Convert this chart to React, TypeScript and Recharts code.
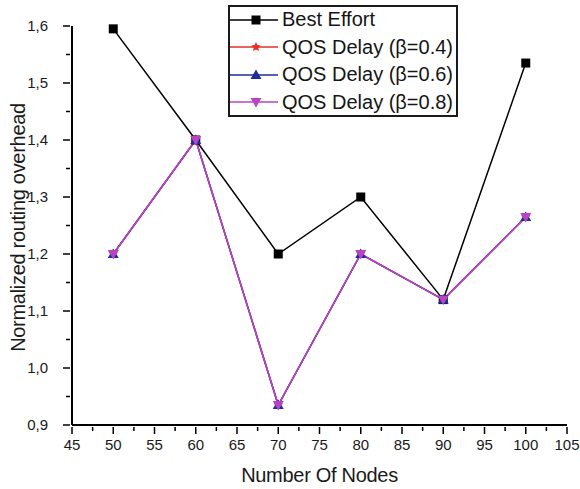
import React from "react";
import { LineChart, Line, XAxis, YAxis, Legend } from "recharts";

const nodes = [50, 60, 70, 80, 90, 100];
const bestEffort = [1.595, 1.4, 1.2, 1.3, 1.12, 1.535];
const qosDelay04 = [1.2, 1.4, 0.935, 1.2, 1.12, 1.265];
const qosDelay06 = [1.2, 1.4, 0.935, 1.2, 1.12, 1.265];
const qosDelay08 = [1.2, 1.4, 0.935, 1.2, 1.12, 1.265];

const xMajorTicks = [45, 50, 55, 60, 65, 70, 75, 80, 85, 90, 95, 100, 105];
const xMinorTicks = [47.5, 52.5, 57.5, 62.5, 67.5, 72.5, 77.5, 82.5, 87.5, 92.5, 97.5, 102.5];
const yMajorTicks = [0.9, 1.0, 1.1, 1.2, 1.3, 1.4, 1.5, 1.6];
const yMinorTicks = [0.95, 1.05, 1.15, 1.25, 1.35, 1.45, 1.55];

const data = nodes.map((n, i) => ({
  nodes: n,
  best: bestEffort[i],
  q04: qosDelay04[i],
  q06: qosDelay06[i],
  q08: qosDelay08[i],
}));

const FONT = "'Liberation Sans', Arial, sans-serif";

const series = [
  { key: "best", name: "Best Effort", color: "#000000", marker: "square" },
  { key: "q04", name: "QOS Delay (\u03b2=0.4)", color: "#e0302a", marker: "star" },
  { key: "q06", name: "QOS Delay (\u03b2=0.6)", color: "#1c2c9c", marker: "up" },
  { key: "q08", name: "QOS Delay (\u03b2=0.8)", color: "#b844c4", marker: "down" },
];

function marker(type: string, cx: number, cy: number, color: string, key?: any) {
  if (type === "square") {
    return <rect key={key} x={cx - 4.5} y={cy - 4.5} width={9} height={9} fill={color} />;
  }
  if (type === "up") {
    return (
      <polygon key={key} points={`${cx},${cy - 5.5} ${cx + 5.5},${cy + 4} ${cx - 5.5},${cy + 4}`} fill={color} />
    );
  }
  if (type === "down") {
    return (
      <polygon key={key} points={`${cx},${cy + 5.5} ${cx + 5.5},${cy - 4} ${cx - 5.5},${cy - 4}`} fill={color} />
    );
  }
  // star
  const pts: string[] = [];
  for (let i = 0; i < 10; i++) {
    const r = i % 2 === 0 ? 5 : 2.4;
    const a = -Math.PI / 2 + (i * Math.PI) / 5;
    pts.push(`${cx + r * Math.cos(a)},${cy + r * Math.sin(a)}`);
  }
  return <polygon key={key} points={pts.join(" ")} fill={color} />;
}

const XTick = (props: any) => {
  const { x, y, payload } = props;
  const v = payload.value;
  const major = xMajorTicks.includes(v);
  return (
    <g>
      <line x1={x} x2={x} y1={y} y2={y + (major ? 7 : 4)} stroke="#000" strokeWidth={1.5} />
      {major && (
        <text x={x} y={y + 23} textAnchor="middle" fontSize={15} fontFamily={FONT} fill="#1a1a1a">
          {v}
        </text>
      )}
    </g>
  );
};

const YTick = (props: any) => {
  const { x, y, payload } = props;
  const v = payload.value;
  const major = yMajorTicks.some((t) => Math.abs(t - v) < 1e-9);
  return (
    <g>
      <line x1={x} x2={x - (major ? 7 : 4)} y1={y} y2={y} stroke="#000" strokeWidth={1.5} />
      {major && (
        <text x={x - 22} y={y + 5} textAnchor="end" fontSize={15} fontFamily={FONT} fill="#1a1a1a">
          {v.toFixed(1).replace(".", ",")}
        </text>
      )}
    </g>
  );
};

const LegendBox = () => (
  <div
    style={{
      border: "2px solid #1a1a1a",
      background: "#fff",
      width: 226,
      height: 108,
      boxSizing: "content-box",
      fontFamily: FONT,
    }}
  >
    {series.map((s) => (
      <div key={s.key} style={{ display: "flex", alignItems: "center", height: 27.5, marginTop: s.key === "best" ? -1 : 0 }}>
        <svg width={52} height={20} style={{ flex: "none" }}>
          <line x1={0} x2={48} y1={10} y2={10} stroke={s.color} strokeWidth={1.5} />
          {marker(s.marker, 26, 10, s.color)}
        </svg>
        <span style={{ fontSize: 20, color: "#151515", whiteSpace: "nowrap" }}>{s.name}</span>
      </div>
    ))}
  </div>
);

export default function App() {
  return (
    <div style={{ position: "absolute", left: 0, top: 0, width: 580, height: 489, background: "#fff" }}>
      <LineChart width={580} height={489} data={data} margin={{ top: 26, right: 13, bottom: 0, left: 32 }}>
        <XAxis
          dataKey="nodes"
          type="number"
          domain={[45, 105]}
          ticks={[...xMajorTicks, ...xMinorTicks].sort((a, b) => a - b)}
          interval={0}
          tickSize={0}
          tickLine={false}
          tick={<XTick />}
          axisLine={{ stroke: "#000", strokeWidth: 2 }}
          height={64}
          label={{
            content: (p: any) => (
              <text
                x={p.viewBox.x + p.viewBox.width / 2}
                y={p.viewBox.y + 57}
                textAnchor="middle"
                fontSize={20}
                fontFamily={FONT}
                fill="#1a1a1a"
                letterSpacing={-0.3}
              >
                Number Of Nodes
              </text>
            ),
          }}
        />
        <YAxis
          type="number"
          domain={[0.9, 1.6]}
          ticks={[...yMajorTicks, ...yMinorTicks].sort((a, b) => a - b)}
          interval={0}
          tickSize={0}
          tickLine={false}
          tick={<YTick />}
          axisLine={{ stroke: "#000", strokeWidth: 2 }}
          width={40}
          label={{
            content: (p: any) => {
              const cx = 18;
              const cy = p.viewBox.y + p.viewBox.height / 2 + 2;
              return (
                <text
                  x={cx}
                  y={cy}
                  transform={`rotate(-90 ${cx} ${cy})`}
                  textAnchor="middle"
                  dominantBaseline="central"
                  fontSize={20}
                  fontFamily={FONT}
                  fill="#1a1a1a"
                  letterSpacing={-0.3}
                >
                  Normalized routing overhead
                </text>
              );
            },
          }}
        />
        <Legend
          layout="vertical"
          align="center"
          verticalAlign="middle"
          content={<LegendBox />}
          wrapperStyle={{ position: "absolute", left: 228, top: 5, width: 230, height: 112 }}
        />
        {series.map((s) => (
          <Line
            key={s.key}
            dataKey={s.key}
            name={s.name}
            stroke={s.color}
            strokeWidth={1.5}
            isAnimationActive={false}
            dot={(p: any) => marker(s.marker, p.cx, p.cy, s.color, `${s.key}-${p.index}`)}
            activeDot={false}
          />
        ))}
      </LineChart>
    </div>
  );
}
